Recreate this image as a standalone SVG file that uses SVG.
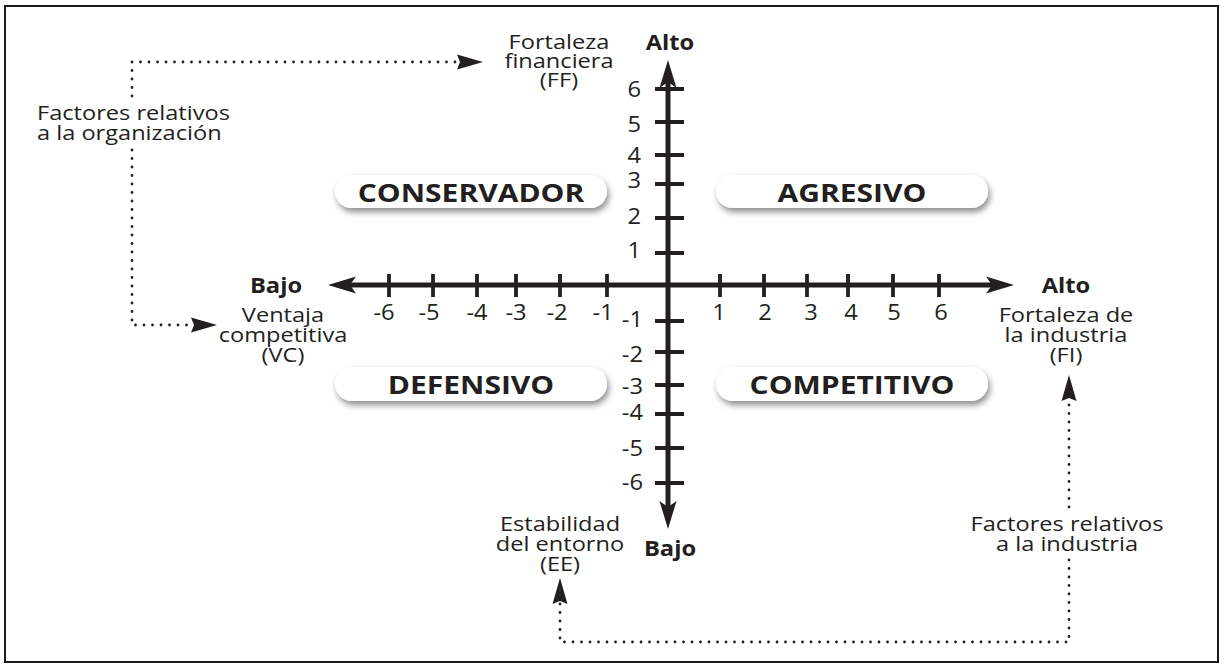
<svg xmlns="http://www.w3.org/2000/svg" width="1226" height="664" viewBox="0 0 1226 664">
<defs>
<style>
text{font-family:"Open Sans","Noto Sans","Liberation Sans",sans-serif;fill:#231f20;}
.r{font-size:20px;}
.b{font-size:21px;font-weight:700;}
.p{font-size:25px;font-weight:700;}
.num{font-size:21px;}
.axis{stroke:#231f20;stroke-width:5;fill:none;}
.tick{stroke:#231f20;stroke-width:3.8;}
.dot{stroke:#231f20;stroke-width:2.8;fill:none;stroke-linecap:round;stroke-dasharray:0 8.5;}
.pill{fill:#fff;filter:url(#sh);}
</style>
<filter id="sh" x="-10%" y="-40%" width="125%" height="190%">
<feDropShadow dx="2" dy="4" stdDeviation="3" flood-color="#000" flood-opacity="0.45"/>
</filter>
<marker id="ah" markerUnits="userSpaceOnUse" viewBox="-8 -10 32 20" refX="0" refY="0" markerWidth="32" markerHeight="20" orient="auto-start-reverse">
<path d="M22,0 L-6,-8.5 L0,0 L-6,8.5 Z" fill="#231f20"/>
</marker>
<marker id="dh" markerUnits="userSpaceOnUse" viewBox="-6 -9 30 18" refX="0" refY="0" markerWidth="30" markerHeight="18" orient="auto">
<path d="M23,0 L-3,-7.5 L0,0 L-3,7.5 Z" fill="#231f20"/>
</marker>
</defs>
<rect x="5" y="6" width="1213" height="656" fill="#fff" stroke="#1a1a1a" stroke-width="2"/>

<g id="connectors">
<path class="axis" d="M350,285 H992" marker-start="url(#ah)" marker-end="url(#ah)"/>
<path class="axis" d="M668,507 V82" marker-start="url(#ah)" marker-end="url(#ah)"/>
<g id="ticks-x">
<path class="tick" d="M389,274V297M433,274V297M477,274V297M516,274V297M560,274V297M607,274V297M720,274V297M764,274V297M807,274V297M848,274V297M893,274V297M939,274V297"/>
</g>
<g id="ticks-y">
<path class="tick" d="M655,89H684M655,122H684M655,155H684M655,184H684M655,218H684M655,253H684M655,321H684M655,352H684M655,385H684M655,414H684M655,448H684M655,483H684"/>
</g>
<path class="dot" d="M132,96 V62 H460" marker-end="url(#dh)"/>
<path class="dot" d="M132,150 V325 H194" marker-end="url(#dh)"/>
<path class="dot" d="M1069,507 V398" marker-end="url(#dh)"/>
<path class="dot" d="M1069,560 V642 H560 V601" marker-end="url(#dh)"/>
</g>

<g id="axis-numbers" class="num">
<g text-anchor="middle">
<text transform="translate(384 320) scale(1.13 1)">-6</text>
<text transform="translate(429 320) scale(1.13 1)">-5</text>
<text transform="translate(477 320) scale(1.13 1)">-4</text>
<text transform="translate(516 320) scale(1.13 1)">-3</text>
<text transform="translate(557 320) scale(1.13 1)">-2</text>
<text transform="translate(603 320) scale(1.13 1)">-1</text>
<text transform="translate(719 320) scale(1.13 1)">1</text>
<text transform="translate(765 320) scale(1.13 1)">2</text>
<text transform="translate(811 320) scale(1.13 1)">3</text>
<text transform="translate(851 320) scale(1.13 1)">4</text>
<text transform="translate(894 320) scale(1.13 1)">5</text>
<text transform="translate(941 320) scale(1.13 1)">6</text>
</g>
<g text-anchor="end">
<text transform="translate(641 97) scale(1.13 1)">6</text>
<text transform="translate(641 132) scale(1.13 1)">5</text>
<text transform="translate(641 163) scale(1.13 1)">4</text>
<text transform="translate(641 188) scale(1.13 1)">3</text>
<text transform="translate(641 224) scale(1.13 1)">2</text>
<text transform="translate(641 258) scale(1.13 1)">1</text>
<text transform="translate(643 327) scale(1.13 1)">-1</text>
<text transform="translate(643 362) scale(1.13 1)">-2</text>
<text transform="translate(643 394) scale(1.13 1)">-3</text>
<text transform="translate(643 420) scale(1.13 1)">-4</text>
<text transform="translate(643 456) scale(1.13 1)">-5</text>
<text transform="translate(643 490) scale(1.13 1)">-6</text>
</g>
</g>

<g id="alto-top"><text class="b" text-anchor="middle" transform="translate(670 50) scale(1.13 1)">Alto</text></g>
<g id="bajo-bottom"><text class="b" text-anchor="middle" transform="translate(670 556) scale(1.13 1)">Bajo</text></g>
<g id="bajo-left"><text class="b" text-anchor="middle" transform="translate(276 293) scale(1.13 1)">Bajo</text></g>
<g id="alto-right"><text class="b" text-anchor="middle" transform="translate(1066 293) scale(1.13 1)">Alto</text></g>

<g id="ff"><text class="r" text-anchor="middle" transform="translate(559 49) scale(1.18 1)"><tspan x="0" y="0">Fortaleza</tspan><tspan x="0" y="19">financiera</tspan><tspan x="0" y="38">(FF)</tspan></text></g>
<g id="org"><text class="r" transform="translate(37 120) scale(1.18 1)"><tspan x="0" y="0">Factores relativos</tspan><tspan x="0" y="20">a la organización</tspan></text></g>
<g id="vc"><text class="r" text-anchor="middle" transform="translate(283 322) scale(1.18 1)"><tspan x="0" y="0">Ventaja</tspan><tspan x="0" y="20">competitiva</tspan><tspan x="0" y="40">(VC)</tspan></text></g>
<g id="fi"><text class="r" text-anchor="middle" transform="translate(1066 322) scale(1.18 1)"><tspan x="0" y="0">Fortaleza de</tspan><tspan x="0" y="20">la industria</tspan><tspan x="0" y="40">(FI)</tspan></text></g>
<g id="ee"><text class="r" text-anchor="middle" transform="translate(560 531) scale(1.18 1)"><tspan x="0" y="0">Estabilidad</tspan><tspan x="0" y="20">del entorno</tspan><tspan x="0" y="40">(EE)</tspan></text></g>
<g id="ind"><text class="r" text-anchor="middle" transform="translate(1067 531) scale(1.18 1)"><tspan x="0" y="0">Factores relativos</tspan><tspan x="0" y="20">a la industria</tspan></text></g>

<g id="conservador"><rect class="pill" x="335" y="175" width="272" height="33" rx="16.5"/><text class="p" text-anchor="middle" transform="translate(471 202) scale(1.2 1)">CONSERVADOR</text></g>
<g id="agresivo"><rect class="pill" x="716" y="175" width="272" height="33" rx="16.5"/><text class="p" text-anchor="middle" transform="translate(852 202) scale(1.2 1)">AGRESIVO</text></g>
<g id="defensivo"><rect class="pill" x="335" y="367" width="272" height="34" rx="17"/><text class="p" text-anchor="middle" transform="translate(471 394) scale(1.2 1)">DEFENSIVO</text></g>
<g id="competitivo"><rect class="pill" x="716" y="367" width="272" height="34" rx="17"/><text class="p" text-anchor="middle" transform="translate(852 394) scale(1.2 1)">COMPETITIVO</text></g>
</svg>
